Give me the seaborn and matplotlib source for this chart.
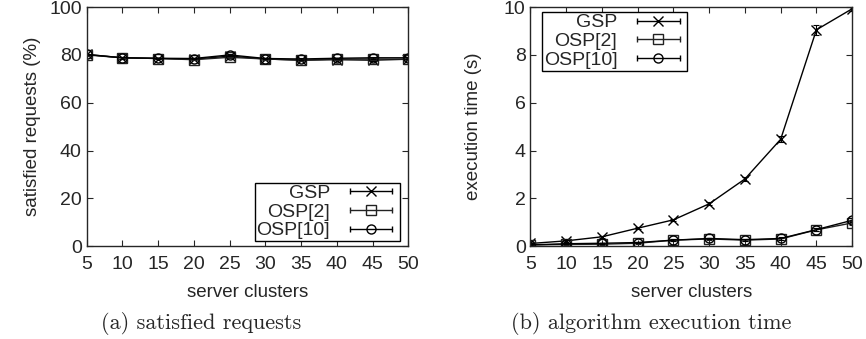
import numpy as np
import pandas as pd
import matplotlib
matplotlib.use('Agg')
import matplotlib.pyplot as plt
from matplotlib.legend_handler import HandlerLine2D, HandlerTuple
import seaborn as sns

# -----------------------

clusters = [5, 10, 15, 20, 25, 30, 35, 40, 45, 50]
algos = ['GSP', 'OSP[2]', 'OSP[10]']

sat_gsp = [80.2, 78.8, 78.5, 78.2, 79.5, 78.3, 77.8, 78.0, 77.8, 78.2]
sat_osp2 = [80.0, 78.8, 78.5, 78.0, 79.0, 78.3, 77.8, 78.3, 78.3, 78.2]
sat_osp10 = [80.2, 78.8, 78.6, 78.5, 80.0, 78.5, 78.3, 78.6, 78.8, 78.8]
sat_err = [0.3, 0.3, 0.3, 0.3, 0.3, 0.3, 0.3, 0.3, 0.3, 0.3]

time_gsp = [0.11, 0.22, 0.39, 0.75, 1.1, 1.77, 2.81, 4.47, 9.05, 9.93]
time_osp2 = [0.05, 0.07, 0.08, 0.12, 0.25, 0.3, 0.25, 0.3, 0.68, 0.97]
time_osp10 = [0.05, 0.1, 0.12, 0.15, 0.25, 0.32, 0.27, 0.32, 0.69, 1.08]
time_gsp_err = [0.02, 0.03, 0.03, 0.04, 0.05, 0.06, 0.08, 0.12, 0.22, 0.1]
time_osp_err = [0.02, 0.02, 0.02, 0.03, 0.03, 0.04, 0.04, 0.05, 0.06, 0.08]

# -----------------------

sns.set_style('ticks')
plt.rcParams['font.family'] = ['Liberation Sans', 'DejaVu Sans']
plt.rcParams['font.size'] = 13
plt.rcParams['xtick.direction'] = 'in'
plt.rcParams['ytick.direction'] = 'in'
plt.rcParams['xtick.top'] = True
plt.rcParams['ytick.right'] = True
plt.rcParams['axes.linewidth'] = 1.0


def mkdf(g, o2, o10, eg, eo):
	rows = []
	for name, vals, errs in zip(algos, [g, o2, o10], [eg, eo, eo]):
		for x, v, e in zip(clusters, vals, errs):
			rows.append((name, x, v, e))
	return pd.DataFrame(rows, columns=['algo', 'clusters', 'value', 'err'])


df_sat = mkdf(sat_gsp, sat_osp2, sat_osp10, sat_err, sat_err)
df_time = mkdf(time_gsp, time_osp2, time_osp10, time_gsp_err, time_osp_err)

palette = {'GSP': 'black', 'OSP[2]': '#222222', 'OSP[10]': 'black'}
markers = {'GSP': 'x', 'OSP[2]': 's', 'OSP[10]': 'o'}

fig, axes = plt.subplots(1, 2, figsize=(8.66, 3.39), dpi=100)
fig.subplots_adjust(left=0.1, right=0.984, bottom=0.274, top=0.979, wspace=0.38)


def draw(ax, df, ylim, ylabel, yticks, loc, anchor, ylpad):
	for name in algos:
		d = df[df['algo'] == name]
		ax.errorbar(d['clusters'], d['value'], yerr=d['err'], fmt='none',
			ecolor=palette[name], elinewidth=0.8, capsize=2, capthick=0.8)
		sns.lineplot(data=d, x='clusters', y='value', color=palette[name],
			marker=markers[name], ax=ax, linewidth=1.0, markersize=6.5,
			markerfacecolor='none', markeredgecolor=palette[name],
			markeredgewidth=1.0, legend=False)

	# gnuplot-like legend sample: line with end caps plus centred marker
	handles, hmap = [], {}
	for n in algos:
		cap = plt.Line2D([], [], color=palette[n], lw=1.0, marker='|',
			markersize=5, markeredgewidth=1.0)
		mk = plt.Line2D([], [], color=palette[n], lw=0, marker=markers[n],
			markersize=6.5, markerfacecolor='none', markeredgewidth=1.0)
		hmap[cap] = HandlerLine2D(numpoints=2)
		hmap[mk] = HandlerLine2D(numpoints=1)
		handles.append((cap, mk))
	hmap[tuple] = HandlerTuple(ndivide=1, pad=0)
	leg = ax.legend(handles, algos, loc=loc, bbox_to_anchor=anchor, markerfirst=False,
		fancybox=False, framealpha=1, edgecolor='black', fontsize=14,
		handlelength=2.8, handletextpad=0.7, borderpad=0.1, labelspacing=0.05,
		borderaxespad=0, handler_map=hmap)
	leg.get_frame().set_linewidth(1.0)
	ax.set(xlim=(5, 50), ylim=ylim, xticks=clusters, yticks=yticks)
	ax.set_xlabel('server clusters', fontsize=13.5, labelpad=8)
	ax.set_ylabel(ylabel, fontsize=13.5, labelpad=ylpad)
	ax.tick_params(labelsize=14, length=4, width=0.8)
	ax.tick_params(axis='x', pad=7)


draw(axes[0], df_sat, (0, 100), 'satisfied requests (%)', [0, 20, 40, 60, 80, 100],
	'lower right', (0.975, 0.02), 6)
draw(axes[1], df_time, (0, 10), 'execution time (s)', [0, 2, 4, 6, 8, 10],
	'upper left', (0.035, 0.98), 16)

fig.text(0.232, 0.045, '(a) satisfied requests', ha='center', va='center',
	fontsize=16, family=['cmr10', 'DejaVu Serif'])
fig.text(0.752, 0.045, '(b) algorithm execution time', ha='center', va='center',
	fontsize=16, family=['cmr10', 'DejaVu Serif'])

plt.savefig('out.png', dpi=100)
